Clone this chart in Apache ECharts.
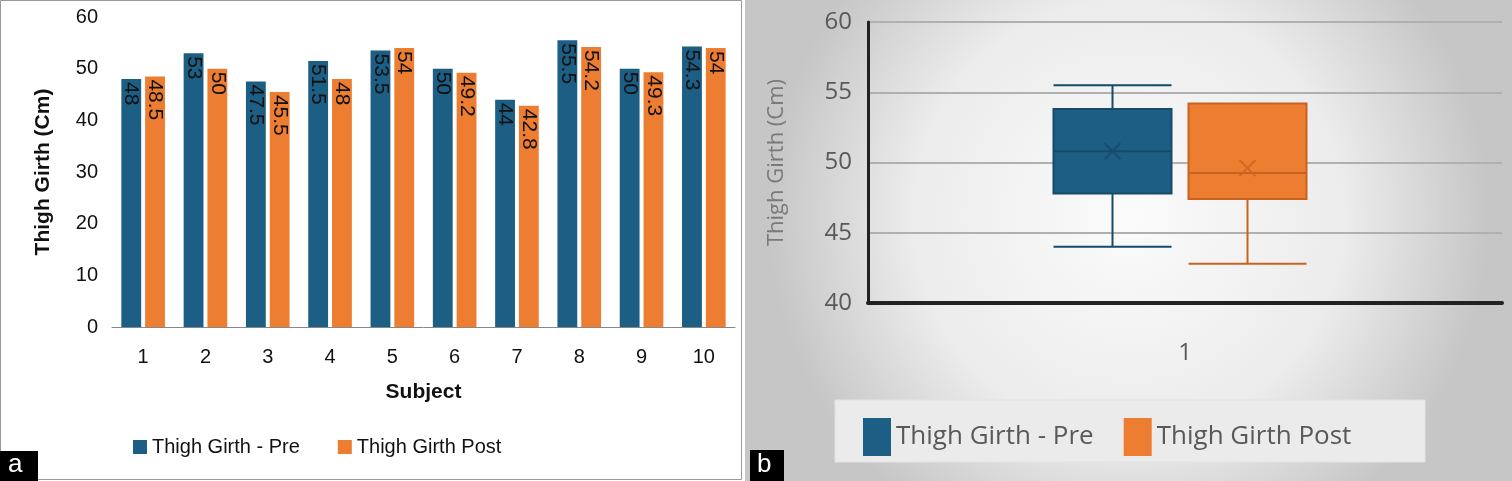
<!DOCTYPE html>
<html>
<head>
<meta charset="utf-8">
<script src="https://cdn.jsdelivr.net/npm/echarts@6/dist/echarts.min.js"></script>
<style>html,body{margin:0;padding:0;background:#fff}#main{width:1512px;height:481px}</style>
</head>
<body>
<div id="main"></div>
<script>
var chart = echarts.init(document.getElementById('main'));
// panel a data
var subjects = ['1','2','3','4','5','6','7','8','9','10'];
var pre = [48, 53, 47.5, 51.5, 53.5, 50, 44, 55.5, 50, 54.3];
var post = [48.5, 50, 45.5, 48, 54, 49.2, 42.8, 54.2, 49.3, 54];
// panel b data: [min, Q1, median, Q3, max]
var boxPre = [44, 47.8, 50.8, 53.8, 55.5];
var boxPost = [42.8, 47.4, 49.25, 54.2, 54.2];
var meanPre = 50.8;
var meanPost = 49.6;

var blue = '#1c5e84', orange = '#ed7d31';
var barLabel = {
  show: true, rotate: -90, position: 'insideTop', align: 'left', verticalAlign: 'middle',
  distance: 3, fontSize: 21, color: '#111', fontFamily: 'Liberation Sans'
};
var xPath = 'path://M0,0L10,10M10,0L0,10';

chart.setOption({
  animation: false,
  textStyle: {fontFamily: 'Liberation Sans'},
  graphic: [
    {type: 'rect', shape: {x: 0.5, y: 0.5, width: 741, height: 479}, style: {fill: '#fff', stroke: '#999'}, z: -10},
    {type: 'rect', shape: {x: 745, y: 0, width: 767, height: 481},
      style: {fill: {type: 'radial', x: 0.5, y: 0.45, r: 0.75, colorStops: [{offset: 0, color: '#fbfbfb'}, {offset: 0.6, color: '#ececec'}, {offset: 1, color: '#c6c6c6'}]}}, z: -10},
    {type: 'rect', shape: {x: 835, y: 400, width: 590, height: 62}, style: {fill: '#ebebeb', stroke: '#e2e2e2'}, z: -9},
    {type: 'rect', shape: {x: 0, y: 451, width: 38, height: 30}, style: {fill: '#000'}, z: 10},
    {type: 'text', x: 8, y: 452, style: {text: 'a', fill: '#fff', font: '26px Liberation Sans'}, z: 11},
    {type: 'rect', shape: {x: 750, y: 450, width: 34, height: 31}, style: {fill: '#000'}, z: 10},
    {type: 'text', x: 757, y: 452, style: {text: 'b', fill: '#fff', font: '26px Liberation Sans'}, z: 11}
  ],
  legend: [
    {data: ['Thigh Girth - Pre', 'Thigh Girth Post'], left: 128, top: 432, itemWidth: 14, itemHeight: 14, itemGap: 38,
      icon: 'rect', textStyle: {fontSize: 20, color: '#111'}},
    {data: ['Thigh Girth - Pre', 'Thigh Girth Post'], left: 858, top: 413, itemWidth: 28, itemHeight: 38, itemGap: 30,
      icon: 'rect', selectedMode: false, textStyle: {fontSize: 26, color: '#595959', fontFamily: 'Open Sans'}}
  ],
  grid: [
    {left: 112, right: 777, top: 17, bottom: 154},
    {left: 868, right: 10, top: 22, bottom: 178},
    {left: 1045, right: 197, top: 22, bottom: 178}
  ],
  xAxis: [
    {gridIndex: 0, type: 'category', data: subjects, name: 'Subject', nameLocation: 'middle', nameGap: 55,
      nameTextStyle: {fontSize: 21, fontWeight: 'bold', color: '#111'},
      axisLine: {lineStyle: {color: '#888'}}, axisTick: {show: false},
      axisLabel: {fontSize: 20, color: '#111', margin: 20}},
    {gridIndex: 1, type: 'category', data: ['1'],
      axisLine: {lineStyle: {color: '#222', width: 4}}, axisTick: {show: false},
      axisLabel: {fontSize: 24, color: '#595959', margin: 38, fontFamily: 'Open Sans'}},
    {gridIndex: 2, type: 'category', data: ['pre', 'post'], show: false}
  ],
  yAxis: [
    {gridIndex: 0, type: 'value', min: 0, max: 60, interval: 10, name: 'Thigh Girth (Cm)', nameLocation: 'middle', nameGap: 58,
      nameTextStyle: {fontSize: 21, fontWeight: 'bold', color: '#111'},
      axisLine: {show: false}, axisTick: {show: false}, splitLine: {show: false},
      axisLabel: {fontSize: 20, color: '#111', margin: 14}},
    {gridIndex: 1, type: 'value', min: 40, max: 60, interval: 5, name: 'Thigh Girth (Cm)', nameLocation: 'middle', nameGap: 80,
      nameTextStyle: {fontSize: 22, color: '#7a7a7a', fontFamily: 'Open Sans'},
      axisLine: {show: true, lineStyle: {color: '#222', width: 3}}, axisTick: {show: false},
      splitLine: {lineStyle: {color: '#b0b0b0', width: 2}},
      axisLabel: {fontSize: 24, color: '#595959', margin: 16, fontFamily: 'Open Sans'}},
    {gridIndex: 2, type: 'value', min: 40, max: 60, interval: 5, show: false, splitLine: {show: false}}
  ],
  series: [
    {name: 'Thigh Girth - Pre', type: 'bar', xAxisIndex: 0, yAxisIndex: 0, data: pre, barGap: '20%', barCategoryGap: '30%',
      itemStyle: {color: blue}, label: barLabel},
    {name: 'Thigh Girth Post', type: 'bar', xAxisIndex: 0, yAxisIndex: 0, data: post,
      itemStyle: {color: orange}, label: barLabel},
    {type: 'boxplot', xAxisIndex: 2, yAxisIndex: 2, boxWidth: [118, 118],
      data: [
        {value: boxPre, itemStyle: {color: blue, borderColor: '#174a68', borderWidth: 2}},
        {value: boxPost, itemStyle: {color: orange, borderColor: '#c9621f', borderWidth: 2}}
      ]},
    {type: 'scatter', xAxisIndex: 2, yAxisIndex: 2, symbol: xPath, symbolSize: 16,
      data: [
        {value: ['pre', meanPre], itemStyle: {color: 'none', borderColor: '#174a68', borderWidth: 2}},
        {value: ['post', meanPost], itemStyle: {color: 'none', borderColor: '#c9621f', borderWidth: 2}}
      ], z: 5}
  ]
});
</script>
</body>
</html>
